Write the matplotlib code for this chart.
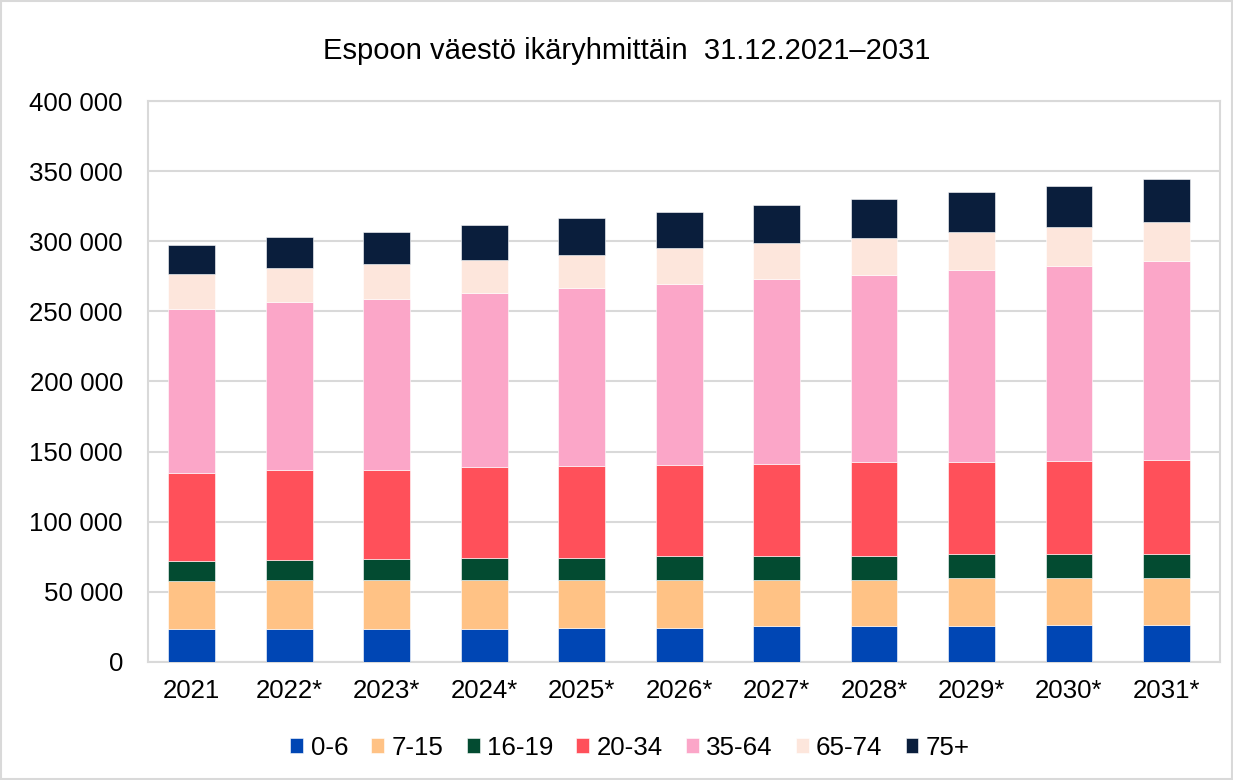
import matplotlib.pyplot as plt
from matplotlib.patches import Rectangle
from matplotlib.ticker import FuncFormatter
import numpy as np

plt.rcParams['font.family'] = ['Liberation Sans', 'DejaVu Sans']

years = ['2021', '2022*', '2023*', '2024*', '2025*', '2026*', '2027*', '2028*', '2029*', '2030*', '2031*']
groups = ['0-6', '7-15', '16-19', '20-34', '35-64', '65-74', '75+']

age_0_6 = [23800, 23800, 23800, 23800, 24500, 24500, 25500, 25500, 25500, 26300, 26300]
age_7_15 = [33900, 35000, 35000, 35000, 34300, 34300, 33300, 33300, 34400, 33600, 33600]
age_16_19 = [14100, 14200, 14900, 15600, 15600, 16900, 16900, 16900, 16800, 16800, 16800]
age_20_34 = [63200, 63900, 63200, 64400, 65100, 65000, 65800, 66700, 65700, 66600, 67600]
age_35_64 = [116700, 119600, 122200, 124100, 127200, 128600, 131600, 133300, 137100, 139000, 141900]
age_65_74 = [24900, 24700, 25000, 24000, 23800, 25900, 25900, 26900, 26900, 27800, 27500]
age_75 = [20500, 21600, 22300, 24700, 26100, 26000, 27100, 27800, 28700, 29600, 30700]

colors = ['#0046B4', '#FFC285', '#034B31', '#FF505A', '#FBA6C8', '#FDE6DC', '#0A1E3C']

series = [age_0_6, age_7_15, age_16_19, age_20_34, age_35_64, age_65_74, age_75]

fig = plt.figure(figsize=(12.33, 7.8), dpi=100)
ax = fig.add_axes([0.120, 0.1513, 0.8695, 0.7192])

x = np.arange(len(years))
bottom = np.zeros(len(years))
for name, vals, c in zip(groups, series, colors):
    ax.bar(x, vals, 0.48, bottom=bottom, color=c, label=name,
           edgecolor='white', linewidth=0.4, zorder=3)
    bottom += np.array(vals)

ax.set_xlim(-0.45, 10.55)
ax.set_ylim(0, 400000)
ax.set_yticks(range(0, 400001, 50000))
ax.yaxis.set_major_formatter(FuncFormatter(lambda v, p: f'{int(v):,}'.replace(',', ' ')))
ax.set_xticks(x)
ax.set_xticklabels(years)
ax.tick_params(axis='both', length=0, labelsize=18.6, colors='black')
ax.tick_params(axis='x', pad=12)
ax.tick_params(axis='y', pad=18)
ax.grid(axis='y', color='#d9d9d9', linewidth=1.5, zorder=0)
for s in ax.spines.values():
    s.set_color('#d9d9d9')
    s.set_linewidth(1.5)

fig.text(0.508, 0.934, 'Espoon väestö ikäryhmittäin  31.12.2021\u20132031',
         ha='center', va='center', fontsize=21)

fig.legend(loc='center', bbox_to_anchor=(0.511, 0.041), ncol=7, frameon=False,
           fontsize=18.6, handlelength=0.5, handleheight=0.5, handletextpad=0.28,
           columnspacing=0.9, borderpad=0)

fig.patches.append(Rectangle((0.001, 0.001), 0.998, 0.998, transform=fig.transFigure,
                             fill=False, edgecolor='#d9d9d9', linewidth=1.5))

fig.savefig('out.png', dpi=100)
